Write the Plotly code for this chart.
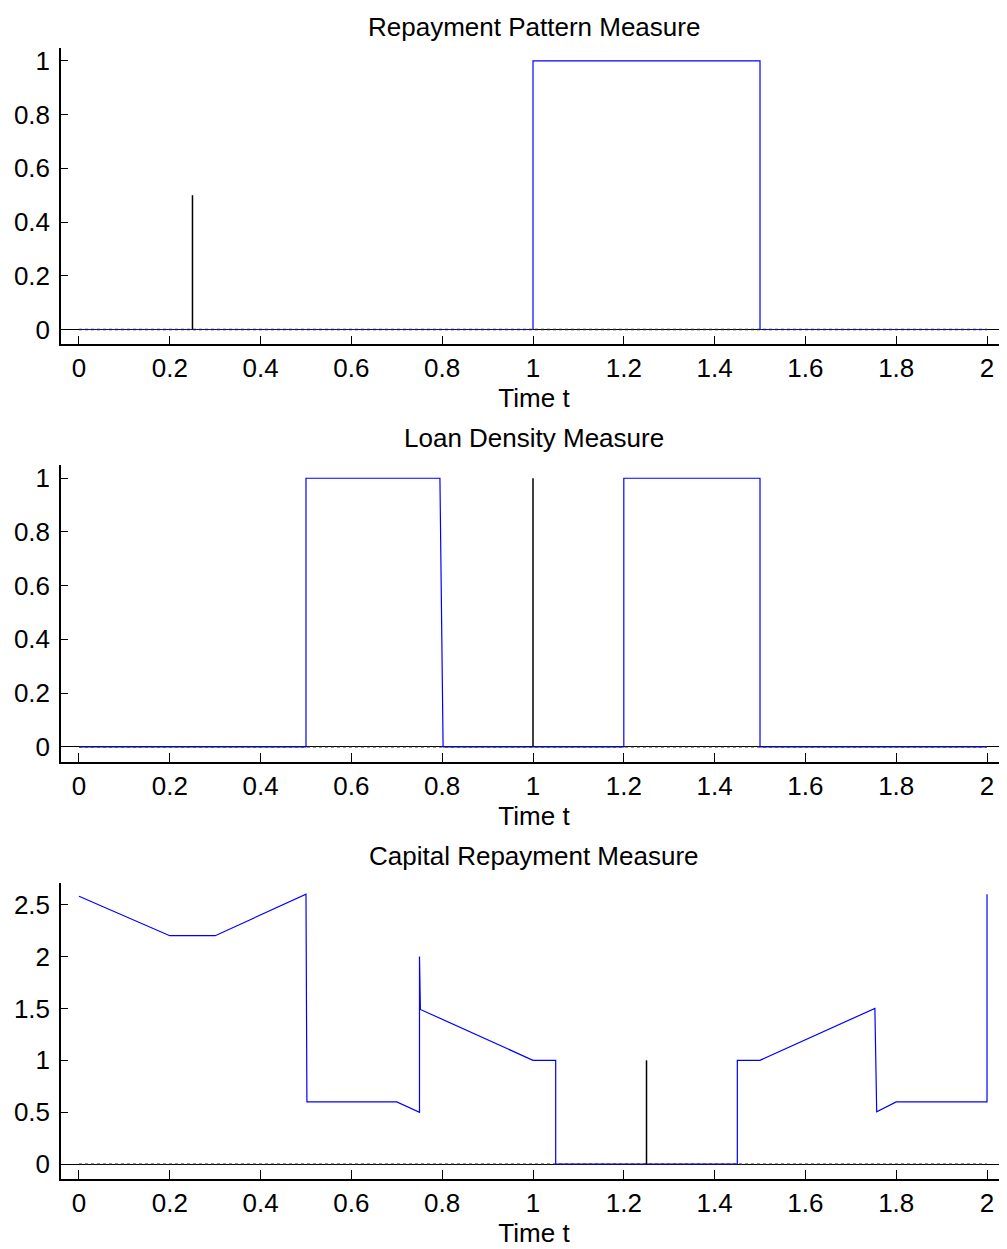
import plotly.graph_objects as go

# ---- data ----
titles = ["Repayment Pattern Measure", "Loan Density Measure", "Capital Repayment Measure"]

# Plot 1: density (blue) and point mass (black)
p1_x = [0, 1.0, 1.0, 1.5, 1.5, 2.0]
p1_y = [0, 0, 1, 1, 0, 0]
p1_spike_x = [0.25, 0.25]
p1_spike_y = [0, 0.5]

# Plot 2
p2_x = [0, 0.5, 0.5, 0.795, 0.802, 1.2, 1.2, 1.5, 1.5, 2.0]
p2_y = [0, 0, 1, 1, 0, 0, 1, 1, 0, 0]
p2_spike_x = [1.0, 1.0]
p2_spike_y = [0, 1]

# Plot 3
p3_x = [0, 0.2, 0.3, 0.5, 0.502, 0.7, 0.75, 0.75, 0.752, 1.0, 1.05, 1.05,
        1.45, 1.45, 1.5, 1.753, 1.757, 1.8, 2.0, 2.0]
p3_y = [2.58, 2.2, 2.2, 2.6, 0.6, 0.6, 0.5, 2.0, 1.49, 1.0, 1.0, 0,
        0, 1.0, 1.0, 1.5, 0.505, 0.6, 0.6, 2.6]
p3_spike_x = [1.25, 1.25]
p3_spike_y = [0, 1]

base_x = [0, 2]
base_y = [0, 0]

x_ticks = [0, 0.2, 0.4, 0.6, 0.8, 1.0, 1.2, 1.4, 1.6, 1.8, 2.0]
y_ticks_12 = [0, 0.2, 0.4, 0.6, 0.8, 1.0]
y_ticks_3 = [0, 0.5, 1.0, 1.5, 2.0, 2.5]

# ---- layout geometry (page has an 8px body margin; figure runs to window edge) ----
OFF = 8
W, H = 1007 - OFF, 1249 - OFF
domains_px = [(46, 343), (464, 761), (882, 1179)]
title_px = [18, 437, 855]
y_ranges = [[-0.0558, 1.0483], [-0.0558, 1.0483], [-0.144, 2.7115]]
x_range = [-0.0396, 2.044]

FONT = "Liberation Sans, Arial, sans-serif"
FS = 26

fig = go.Figure()
series = [
    (p1_x, p1_y, p1_spike_x, p1_spike_y),
    (p2_x, p2_y, p2_spike_x, p2_spike_y),
    (p3_x, p3_y, p3_spike_x, p3_spike_y),
]

for i, (bx, by, sx, sy) in enumerate(series):
    xa = "x" if i == 0 else f"x{i+1}"
    ya = "y" if i == 0 else f"y{i+1}"
    fig.add_trace(go.Scatter(x=bx, y=by, mode="lines", line=dict(color="#0000ff", width=1.2),
                             xaxis=xa, yaxis=ya, showlegend=False, hoverinfo="skip"))
    fig.add_trace(go.Scatter(x=base_x, y=base_y, mode="lines",
                             line=dict(color="#222222", width=1.3, dash="dot"),
                             xaxis=xa, yaxis=ya, showlegend=False, hoverinfo="skip"))
    fig.add_trace(go.Scatter(x=sx, y=sy, mode="lines", line=dict(color="black", width=1.5),
                             xaxis=xa, yaxis=ya, showlegend=False, hoverinfo="skip"))

layout = dict(
    width=W, height=H,
    margin=dict(l=61 - OFF, r=0, t=0, b=0),
    paper_bgcolor="white", plot_bgcolor="white",
    font=dict(family=FONT, size=FS, color="black"),
    showlegend=False,
    annotations=[],
)

for i in range(3):
    top, bot = domains_px[i]
    top -= OFF
    bot -= OFF
    dom = [1 - bot / H, 1 - top / H]
    xkey = "xaxis" if i == 0 else f"xaxis{i+1}"
    ykey = "yaxis" if i == 0 else f"yaxis{i+1}"
    yname = "y" if i == 0 else f"y{i+1}"
    xname = "x" if i == 0 else f"x{i+1}"
    layout[xkey] = dict(
        domain=[0, 1], anchor=yname, range=x_range,
        tickvals=x_ticks, ticktext=[f"{v:g}" for v in x_ticks],
        ticks="inside", ticklen=9, tickwidth=1, tickcolor="black",
        showline=True, linecolor="black", linewidth=1.5, mirror=False,
        showgrid=False, zeroline=False,
        tickfont=dict(family=FONT, size=FS, color="black"),
        ticklabelstandoff=0,
        title=dict(text="Time t", font=dict(family=FONT, size=FS, color="black"), standoff=0),
        fixedrange=True,
    )
    yt = y_ticks_3 if i == 2 else y_ticks_12
    layout[ykey] = dict(
        domain=dom, anchor=xname, range=y_ranges[i],
        tickvals=yt, ticktext=[f"{v:g}" for v in yt],
        ticks="inside", ticklen=7, tickwidth=1, tickcolor="black",
        showline=True, linecolor="black", linewidth=1.5, mirror=False,
        showgrid=False, zeroline=True, zerolinecolor="black", zerolinewidth=1,
        tickfont=dict(family=FONT, size=FS, color="black"),
        ticklabelstandoff=4,
        fixedrange=True,
    )
    if i == 0:
        # keep the first title fully inside the figure
        ann_y, ann_anchor = 1.0, "top"
    else:
        ann_y, ann_anchor = 1 - (title_px[i] - OFF) / H, "middle"
    layout["annotations"].append(dict(
        text=titles[i], xref="paper", yref="paper", x=0.5, y=ann_y,
        xanchor="center", yanchor=ann_anchor, showarrow=False,
        font=dict(family=FONT, size=FS, color="black"),
    ))

fig.update_layout(**layout)
fig.write_html("out.html")
